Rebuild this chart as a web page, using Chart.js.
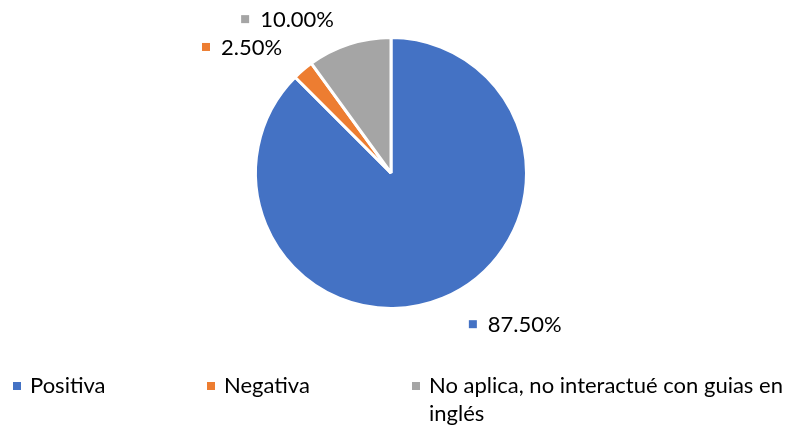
<!DOCTYPE html>
<html>
<head>
<meta charset="utf-8">
<script src="https://cdn.jsdelivr.net/npm/chart.js@4.4.1/dist/chart.umd.min.js"></script>
<style>
  html, body { margin: 0; padding: 0; background: #fff; }
  #wrap { width: 794px; height: 428px; }
</style>
</head>
<body>
<div id="wrap"><canvas id="pie"></canvas></div>
<script>
const categories = ['Positiva', 'Negativa', 'No aplica, no interactué con guias en inglés'];
const values = [87.5, 2.5, 10];
const valueLabels = ['87.50%', '2.50%', '10.00%'];
const colors = ['#4472C4', '#ED7D31', '#A5A5A5'];

const FONT = '22px Lato, "Noto Sans", sans-serif';

// where each data label sits, as offset from the arc's mid-point on the rim
const labelOffsets = [
  { dx: 30, dy: 26 },
  { dx: -97, dy: -23 },
  { dx: -104, dy: -25 },
];

function wrapText(ctx, text, maxWidth) {
  const words = text.split(' ');
  const lines = [];
  let cur = '';
  words.forEach((w) => {
    const test = cur ? cur + ' ' + w : w;
    if (ctx.measureText(test).width > maxWidth && cur) {
      lines.push(cur);
      cur = w;
    } else {
      cur = test;
    }
  });
  if (cur) lines.push(cur);
  return lines;
}

const labelsPlugin = {
  id: 'excelLabels',
  afterDraw(chart) {
    const ctx = chart.ctx;
    const meta = chart.getDatasetMeta(0);
    ctx.save();
    ctx.font = FONT;
    ctx.textBaseline = 'middle';
    ctx.fillStyle = '#000';

    meta.data.forEach((arc, i) => {
      const { x, y, startAngle, endAngle, outerRadius } = arc.getProps(['x', 'y', 'startAngle', 'endAngle', 'outerRadius'], true);
      const mid = (startAngle + endAngle) / 2;
      const px = x + Math.cos(mid) * outerRadius + labelOffsets[i].dx;
      const py = y + Math.sin(mid) * outerRadius + labelOffsets[i].dy;
      ctx.fillStyle = colors[i];
      ctx.fillRect(px - 4, py - 4, 8, 8);
      ctx.fillStyle = '#000';
      ctx.textAlign = 'left';
      ctx.fillText(valueLabels[i], px + 15, py + 1);
    });

    // legend along the bottom
    const legendX = [13, 207, 412];
    const legendY = 386;
    categories.forEach((cat, i) => {
      ctx.fillStyle = colors[i];
      ctx.fillRect(legendX[i], legendY - 4, 8, 8);
      ctx.fillStyle = '#000';
      const lines = wrapText(ctx, cat, 794 - legendX[i] - 17);
      lines.forEach((ln, j) => {
        ctx.fillText(ln, legendX[i] + 17, legendY + j * 28);
      });
    });
    ctx.restore();
  }
};

new Chart(document.getElementById('pie'), {
  type: 'pie',
  data: {
    labels: categories,
    datasets: [{
      data: values,
      backgroundColor: colors,
      borderColor: '#fff',
      borderWidth: 3,
      hoverOffset: 0,
    }],
  },
  options: {
    responsive: true,
    maintainAspectRatio: false,
    animation: false,
    layout: { padding: { top: 36, bottom: 118, left: 100, right: 112 } },
    plugins: {
      legend: { display: false },
      tooltip: { enabled: false },
    },
  },
  plugins: [labelsPlugin],
});
</script>
</body>
</html>
